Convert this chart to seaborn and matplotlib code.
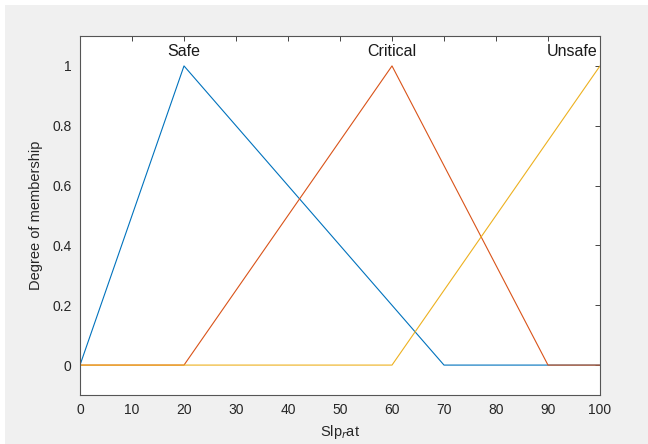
import pandas as pd
import matplotlib
matplotlib.use("Agg")
import matplotlib.pyplot as plt
import seaborn as sns
from matplotlib.patches import Rectangle

# membership functions (breakpoints)
safe_x = [0, 20, 70, 100]
safe_y = [0, 1, 0, 0]
critical_x = [0, 20, 60, 90, 100]
critical_y = [0, 0, 1, 0, 0]
unsafe_x = [0, 60, 100]
unsafe_y = [0, 0, 1]

mf_names = ["Safe", "Critical", "Unsafe"]
mf_peaks = [20, 60, 100]
colors = ["#0072BD", "#D95319", "#EDB120"]

x_ticks = list(range(0, 101, 10))
y_ticks = [0, 0.2, 0.4, 0.6, 0.8, 1]

df = pd.concat([
    pd.DataFrame({"x": safe_x, "y": safe_y, "mf": "Safe"}),
    pd.DataFrame({"x": critical_x, "y": critical_y, "mf": "Critical"}),
    pd.DataFrame({"x": unsafe_x, "y": unsafe_y, "mf": "Unsafe"}),
])

sns.set_style("white")
plt.rcParams["font.family"] = ["Liberation Sans", "DejaVu Sans"]

fig = plt.figure(figsize=(6.48, 4.44), dpi=100, facecolor="white")
fig.patches.append(Rectangle((5 / 648, 0), 1, 1 - 5 / 444, transform=fig.transFigure,
                             facecolor="#f0f0f0", edgecolor="none", zorder=-1))
ax = fig.add_axes([80 / 648, 1 - 395 / 444, 520 / 648, 359 / 444])
ax.set_facecolor("white")

sns.lineplot(data=df, x="x", y="y", hue="mf", palette=colors, sort=False,
             estimator=None, linewidth=0.8, legend=False, ax=ax)

for name, peak in zip(mf_names, mf_peaks):
    # labels sit above the peak; the one at the edge is kept inside the box
    ha = "right" if peak >= 95 else "center"
    xpos = 99.6 if peak >= 95 else peak
    ax.text(xpos, 1.048, name, ha=ha, va="center", fontsize=11.5, color="#1a1a1a")

ax.set_xlim(0, 100)
ax.set_ylim(-0.1, 1.1)
ax.set_xticks(x_ticks)
ax.set_yticks(y_ticks)
ax.set_yticklabels(["0", "0.2", "0.4", "0.6", "0.8", "1"])
ax.tick_params(direction="in", length=3.5, width=0.6, colors="#262626",
               labelsize=10, top=True, right=True, labeltop=False, labelright=False,
               pad=6)
for s in ax.spines.values():
    s.set_color("#555555")
    s.set_linewidth(0.8)
ax.set_xlabel("Slp$_r$at", fontsize=10.5, color="#262626", labelpad=4)
ax.set_ylabel("Degree of membership", fontsize=10.5, color="#262626", labelpad=7)

fig.savefig("out.png", dpi=100, facecolor=fig.get_facecolor())
